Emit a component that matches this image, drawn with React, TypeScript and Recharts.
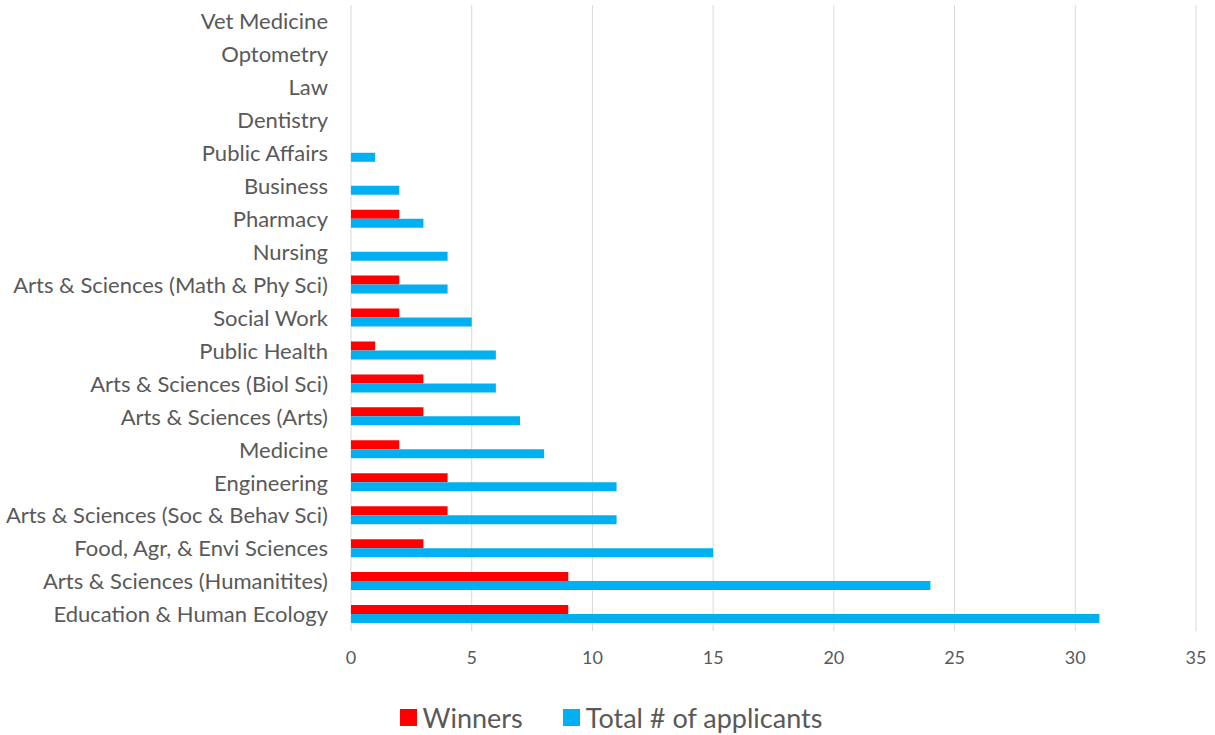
import { BarChart, Bar, XAxis, YAxis, CartesianGrid, Legend } from "recharts";

const colleges = [
  "Vet Medicine",
  "Optometry",
  "Law",
  "Dentistry",
  "Public Affairs",
  "Business",
  "Pharmacy",
  "Nursing",
  "Arts & Sciences (Math & Phy Sci)",
  "Social Work",
  "Public Health",
  "Arts & Sciences (Biol Sci)",
  "Arts & Sciences (Arts)",
  "Medicine",
  "Engineering",
  "Arts & Sciences (Soc & Behav Sci)",
  "Food, Agr, & Envi Sciences",
  "Arts & Sciences (Humanitites)",
  "Education & Human Ecology",
];

const winners = [0, 0, 0, 0, 0, 0, 2, 0, 2, 2, 1, 3, 3, 2, 4, 4, 3, 9, 9];
const applicants = [0, 0, 0, 0, 1, 2, 3, 4, 4, 5, 6, 6, 7, 8, 11, 11, 15, 24, 31];

const xTicks = [0, 5, 10, 15, 20, 25, 30, 35];

const legendItems = [
  { label: "Winners", color: "#ff0000" },
  { label: "Total # of applicants", color: "#00b0f0" },
];

const data = colleges.map((name, i) => ({
  name,
  winners: winners[i],
  applicants: applicants[i],
}));

const font = "Lato, 'Open Sans', sans-serif";

function ChartLegend() {
  return (
    <div style={{ display: "flex", justifyContent: "center", gap: 40, paddingLeft: 26, fontFamily: font, fontSize: 27, color: "#595959" }}>
      {legendItems.map((it) => (
        <div key={it.label} style={{ display: "flex", alignItems: "center" }}>
          <span style={{ display: "inline-block", width: 17, height: 17, background: it.color, marginRight: 6 }} />
          <span>{it.label}</span>
        </div>
      ))}
    </div>
  );
}

export default function App() {
  return (
    <div style={{ position: "absolute", left: 0, top: 0, background: "#fff" }}>
      <BarChart
        width={1215}
        height={735}
        layout="vertical"
        data={data}
        margin={{ top: 5, right: 19, left: 0, bottom: 4 }}
        barGap={0}
        barSize={9}
      >
        <CartesianGrid horizontal={false} stroke="#d9d9d9" />
        <XAxis
          type="number"
          domain={[0, 35]}
          ticks={xTicks}
          axisLine={false}
          tickLine={false}
          tick={{ fill: "#595959", fontSize: 18, fontFamily: font }}
          tickMargin={14}
          height={50}
        />
        <YAxis
          type="category"
          dataKey="name"
          width={351}
          axisLine={false}
          tickLine={false}
          interval={0}
          tick={{ fill: "#595959", fontSize: 22, fontFamily: font }}
          tickMargin={17}
        />
        <Legend
          verticalAlign="bottom"
          height={50}
          content={<ChartLegend />}
          wrapperStyle={{ top: 701, bottom: "auto" }}
        />
        <Bar dataKey="winners" name="Winners" fill="#ff0000" isAnimationActive={false} />
        <Bar dataKey="applicants" name="Total # of applicants" fill="#00b0f0" isAnimationActive={false} />
      </BarChart>
    </div>
  );
}
